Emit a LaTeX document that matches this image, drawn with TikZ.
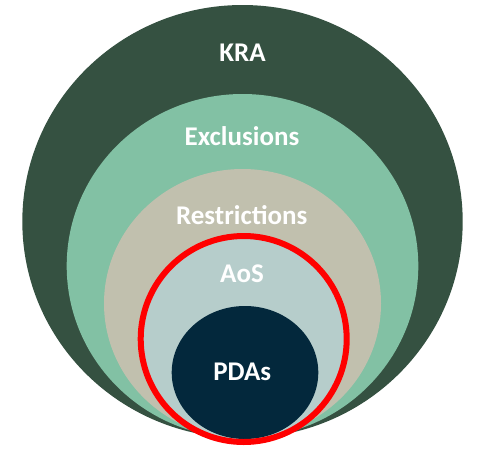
\documentclass[tikz,border=0pt]{standalone}
\usepackage{fontspec}
\setmainfont{Carlito}
\usetikzlibrary{shapes.geometric}
\definecolor{kracol}{HTML}{355141}
\definecolor{exclcol}{HTML}{82C1A4}
\definecolor{restrcol}{HTML}{C1C0AE}
\definecolor{aoscol}{HTML}{B6CDCB}
\definecolor{pdacol}{HTML}{03283C}
\definecolor{ringred}{HTML}{FF0000}
\tikzset{
  disc/.style={ellipse, inner sep=0pt, outer sep=0pt},
  lbl/.style={text=white, font=\fontsize{27}{27}\selectfont\bfseries, anchor=base, inner sep=0pt}
}
\begin{document}
\begin{tikzpicture}[x=1pt,y=-1pt]
\useasboundingbox (0,0) rectangle (479,448);
\node[disc, fill=kracol, minimum width=440.4pt, minimum height=433pt] (kra) at (242.5,221.5) {};
\node[disc, fill=exclcol, minimum width=351.6pt, minimum height=344pt] (excl) at (242.5,266) {};
\node[disc, fill=restrcol, minimum width=277pt, minimum height=269pt] (restr) at (242.5,303.5) {};
\node[disc, fill=aoscol, minimum width=206pt, minimum height=206pt] (aos) at (243.7,339) {};
\node[disc, fill=pdacol, minimum width=146.6pt, minimum height=133pt] (pda) at (245,372.5) {};
\node[disc, draw=ringred, line width=6pt, minimum width=206pt, minimum height=206pt] (ring) at (243.7,339) {};
\node[lbl] (tkra) at (242.5,61.7) {KRA};
\node[lbl] (texcl) at (242,145) {Exclusions};
\node[lbl] (trestr) at (241.7,224) {Restrictions};
\node[lbl] (taos) at (242,282) {AoS};
\node[lbl] (tpda) at (242.2,380) {PDAs};
\end{tikzpicture}
\end{document}
